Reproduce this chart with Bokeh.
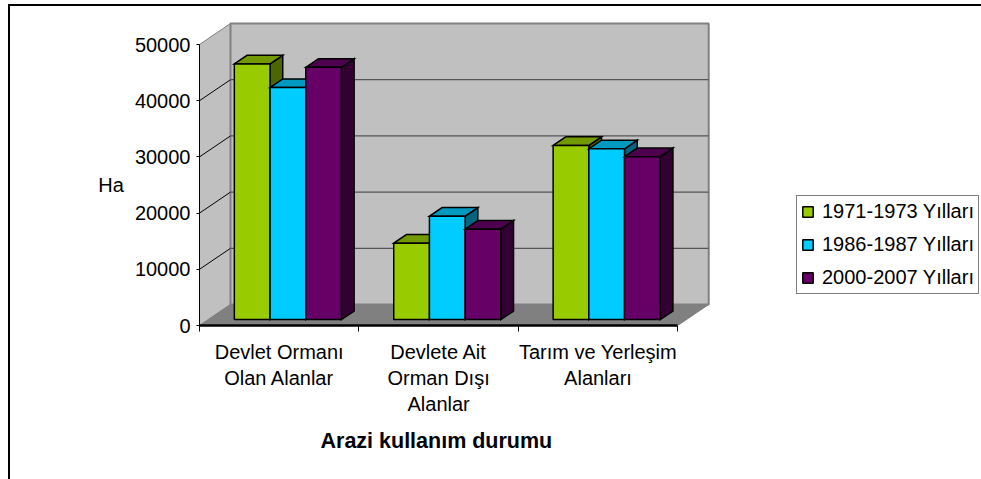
from bokeh.plotting import figure
from bokeh.embed import file_html
from bokeh.resources import INLINE
from bokeh.models import (LinearAxis, FixedTicker, Range1d, Legend, LegendItem, Title)

categories = ["Devlet Ormanı\nOlan Alanlar", "Devlete Ait\nOrman Dışı\nAlanlar", "Tarım ve Yerleşim\nAlanları"]
series_names = ["1971-1973 Yılları", "1986-1987 Yılları", "2000-2007 Yılları"]
values_1971 = [45500, 13600, 31000]
values_1986 = [41300, 18400, 30400]
values_2000 = [44900, 16100, 29000]
y_ticks = [0, 10000, 20000, 30000, 40000, 50000]
x_title = "Arazi kullanım durumu"
y_title = "Ha"

FRONT = ["#99CC00", "#00CCFF", "#660066"]
TOP = ["#739900", "#0099BF", "#4D004D"]
SIDE = ["#4D6600", "#006680", "#330033"]

FONT = "Liberation Sans"
FS = "20px"

PX_X = 159.4
PX_Y = 56.2 / 10000
DX = 31 / PX_X
DY = 21 / PX_Y
BAR_W = 35.7 / PX_X
D0, D1 = 0.28, 0.69
XMAX = 3.0


def proj(x, y, d):
    return x + d * DX, y + d * DY


W, H = 973, 475
FRAME_L, FRAME_T, FRAME_B = 189, 12, 319

y_end = (FRAME_B - FRAME_T) / PX_Y
x_end = (W - FRAME_L) / PX_X

p = figure(width=W, height=H, output_backend="svg", toolbar_location=None,
           x_range=Range1d(0, x_end), y_range=Range1d(0, y_end),
           x_axis_location=None, y_axis_location=None,
           min_border_left=FRAME_L, min_border_right=0, min_border_top=FRAME_T,
           min_border_bottom=H - FRAME_B, outline_line_color=None,
           margin=(4, 0, 0, 8))
p.styles = {"border-top": "2px solid black", "border-left": "2px solid black", "box-sizing": "border-box"}
p.grid.visible = False

WALL = "#C0C0C0"
ymax = y_ticks[-1]
lw_x, lw_y = zip(proj(0, 0, 0), proj(0, ymax, 0), proj(0, ymax, 1), proj(0, 0, 1))
p.patch(list(lw_x), list(lw_y), fill_color=WALL, line_color="#808080", line_width=1)
bw_x, bw_y = zip(proj(0, 0, 1), proj(0, ymax, 1), proj(XMAX, ymax, 1), proj(XMAX, 0, 1))
p.patch(list(bw_x), list(bw_y), fill_color=WALL, line_color="#808080", line_width=2)
fl_x, fl_y = zip(proj(0, 0, 0), proj(0, 0, 1), proj(XMAX, 0, 1), proj(XMAX, 0, 0))
p.patch(list(fl_x), list(fl_y), fill_color="#808080", line_color="#808080", line_width=1)

for t in y_ticks[1:-1]:
    a, b, c = proj(0, t, 0), proj(0, t, 1), proj(XMAX, t, 1)
    p.line([a[0], b[0]], [a[1], b[1]], line_color="#000000", line_width=1)
    p.line([b[0], c[0]], [b[1], c[1]], line_color="#555555", line_width=1.2)

all_values = [values_1971, values_1986, values_2000]
legend_rs = {}
for g in range(len(categories)):
    for s in range(3):
        v = all_values[s][g]
        x0 = g + 0.5 + (s - 1.5) * BAR_W
        x1 = x0 + BAR_W
        pts = [proj(x1, 0, D0), proj(x1, v, D0), proj(x1, v, D1), proj(x1, 0, D1)]
        p.patch([q[0] for q in pts], [q[1] for q in pts], fill_color=SIDE[s],
                line_color="black", line_width=1.5, line_join="miter")
        pts = [proj(x0, v, D0), proj(x0, v, D1), proj(x1, v, D1), proj(x1, v, D0)]
        p.patch([q[0] for q in pts], [q[1] for q in pts], fill_color=TOP[s],
                line_color="black", line_width=1.5, line_join="miter")
        fx0, fy0 = proj(x0, 0, D0)
        fx1, fy1 = proj(x1, v, D0)
        r = p.quad(left=[fx0], right=[fx1], bottom=[fy0], top=[fy1], fill_color=FRONT[s],
                   line_color="black", line_width=1.5)
        legend_rs.setdefault(s, r)

yaxis = LinearAxis(ticker=FixedTicker(ticks=y_ticks), bounds=(0, ymax))
yaxis.axis_line_color = "black"
yaxis.axis_line_width = 1
yaxis.major_tick_line_color = "black"
yaxis.major_tick_out = 3
yaxis.major_tick_in = 0
yaxis.minor_tick_line_color = None
yaxis.major_label_standoff = 6
yaxis.major_label_text_font = FONT
yaxis.major_label_text_font_size = FS
yaxis.major_label_text_color = "black"
yaxis.axis_label = "\n" + y_title
yaxis.axis_label_orientation = "horizontal"
yaxis.axis_label_standoff = 8
yaxis.axis_label_text_font = FONT
yaxis.axis_label_text_font_size = FS
yaxis.axis_label_text_font_style = "normal"
yaxis.axis_label_text_color = "black"
yaxis.axis_label_text_line_height = 1.15
p.add_layout(yaxis, "left")

xaxis = LinearAxis(ticker=FixedTicker(ticks=[i + 0.5 for i in range(len(categories))],
                                      minor_ticks=[0, 1, 2, 3]),
                   bounds=(0, XMAX))
xaxis.major_label_overrides = {i + 0.5: c for i, c in enumerate(categories)}
xaxis.axis_line_color = "black"
xaxis.axis_line_width = 2.5
xaxis.major_tick_line_color = None
xaxis.major_tick_out = 0
xaxis.major_tick_in = 0
xaxis.minor_tick_line_color = "black"
xaxis.minor_tick_out = 6
xaxis.minor_tick_in = 0
xaxis.major_label_standoff = 9
xaxis.major_label_text_font = FONT
xaxis.major_label_text_font_size = FS
xaxis.major_label_text_color = "black"
xaxis.major_label_text_line_height = 1.2
p.add_layout(xaxis, "below")

p.add_layout(Title(text=x_title, align="left", offset=121, standoff=17,
                   text_font=FONT, text_font_size="21.5px", text_font_style="bold",
                   text_color="black"), "below")

legend = Legend(items=[LegendItem(label=series_names[s], renderers=[legend_rs[s]]) for s in range(3)],
                location=(597, 31), orientation="vertical",
                glyph_width=13, glyph_height=13, label_standoff=8, spacing=10,
                label_height=20, padding=4, margin=0,
                border_line_color="black", border_line_width=1.5,
                background_fill_alpha=1,
                label_text_font=FONT, label_text_font_size=FS, label_text_color="black")
p.add_layout(legend, "center")

open("out.html", "w").write(file_html(p, INLINE))
